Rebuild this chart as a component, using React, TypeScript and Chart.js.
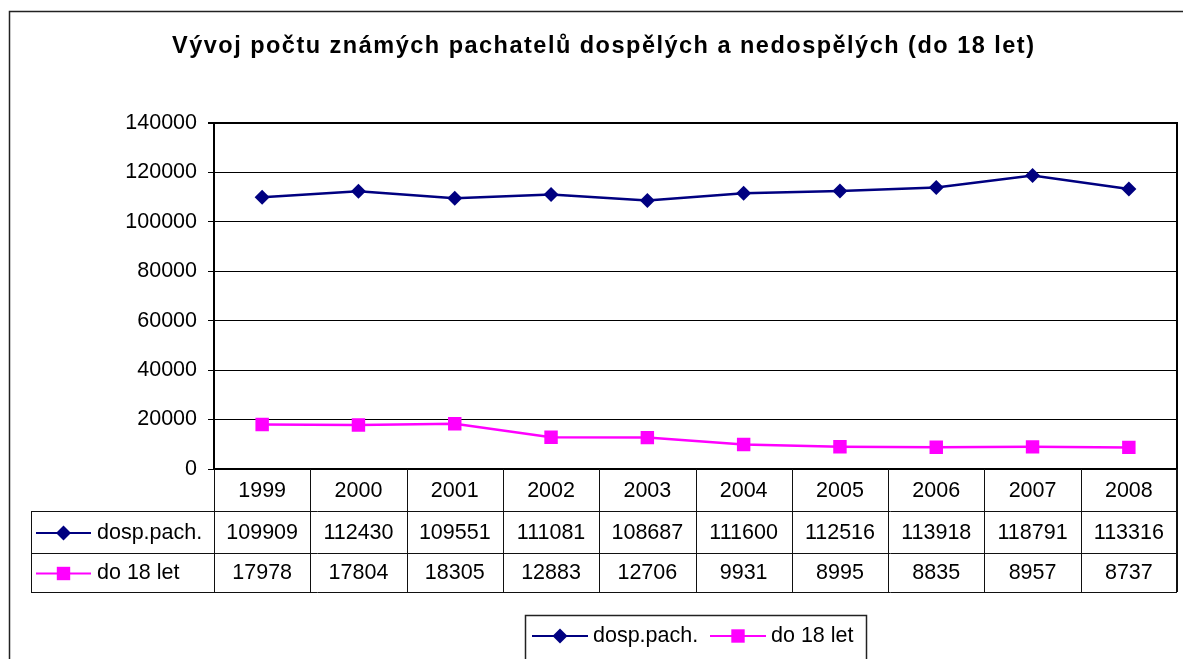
import React, { useEffect, useRef } from 'react';
import { Chart, registerables } from 'chart.js';

Chart.register(...registerables);

const years = ['1999', '2000', '2001', '2002', '2003', '2004', '2005', '2006', '2007', '2008'];
const adults = [109909, 112430, 109551, 111081, 108687, 111600, 112516, 113918, 118791, 113316];
const juveniles = [17978, 17804, 18305, 12883, 12706, 9931, 8995, 8835, 8957, 8737];
const seriesNames = ['dosp.pach.', 'do 18 let'];
const seriesColors = ['#000080', '#FF00FF'];
const seriesStyles = ['rectRot', 'rect'];
const yMin = 0;
const yMax = 140000;
const yStep = 20000;
const title = 'Vývoj počtu známých pachatelů dospělých a nedospělých (do 18 let)';

const FONT = '"Liberation Sans", Arial, sans-serif';
const TXT = 21.5;

function drawMarker(ctx: CanvasRenderingContext2D, cx: number, cy: number, style: string, color: string) {
  ctx.fillStyle = color;
  ctx.beginPath();
  if (style === 'rectRot') {
    const r = 7.5;
    ctx.moveTo(cx, cy - r);
    ctx.lineTo(cx + r, cy);
    ctx.lineTo(cx, cy + r);
    ctx.lineTo(cx - r, cy);
    ctx.closePath();
  } else {
    const h = 6.7;
    ctx.rect(cx - h, cy - h, 2 * h, 2 * h);
  }
  ctx.fill();
}

function drawKey(ctx: CanvasRenderingContext2D, x1: number, x2: number, y: number, i: number) {
  ctx.strokeStyle = seriesColors[i];
  ctx.lineWidth = 2;
  ctx.beginPath();
  ctx.moveTo(x1, y);
  ctx.lineTo(x2, y);
  ctx.stroke();
  drawMarker(ctx, (x1 + x2) / 2, y, seriesStyles[i], seriesColors[i]);
}

const decorPlugin = {
  id: 'decor',
  afterDraw(chart: any) {
    const ctx: CanvasRenderingContext2D = chart.ctx;
    const area = chart.chartArea;
    const xs = chart.scales.x;
    ctx.save();

    // outer frame
    ctx.strokeStyle = '#222';
    ctx.lineWidth = 1.5;
    ctx.strokeRect(9.5, 11.5, 1400, 1000);

    // title
    ctx.fillStyle = '#000';
    ctx.font = `bold 23.5px ${FONT}`;
    ctx.textAlign = 'left';
    ctx.textBaseline = 'middle';
    const w = ctx.measureText(title).width;
    const ls = Math.max(0, (862 - w) / (title.length - 1));
    (ctx as any).letterSpacing = `${ls}px`;
    ctx.fillText(title, 172, 47);
    (ctx as any).letterSpacing = '0px';

    // plot right border
    ctx.strokeStyle = '#000';
    ctx.lineWidth = 2;
    ctx.beginPath();
    ctx.moveTo(area.right, area.top - 1);
    ctx.lineTo(area.right, area.bottom);
    ctx.stroke();

    // data table
    const n = years.length;
    const colW = (area.right - area.left) / n;
    const headTop = area.bottom;
    const r1 = headTop + 42;
    const r2 = r1 + 42;
    const r3 = r2 + 39;
    const tableLeft = 31;
    ctx.strokeStyle = '#111';
    ctx.lineWidth = 1;
    ctx.beginPath();
    for (let k = 0; k < n; k++) {
      const x = Math.round(area.left + k * colW) + 0.5;
      ctx.moveTo(x, headTop);
      ctx.lineTo(x, r3);
    }
    [r1, r2, r3].forEach((y) => {
      ctx.moveTo(tableLeft, Math.round(y) + 0.5);
      ctx.lineTo(area.right, Math.round(y) + 0.5);
    });
    ctx.moveTo(tableLeft + 0.5, r1);
    ctx.lineTo(tableLeft + 0.5, r3);
    ctx.stroke();
    ctx.lineWidth = 2;
    ctx.beginPath();
    ctx.moveTo(area.right, headTop);
    ctx.lineTo(area.right, r3);
    ctx.stroke();

    ctx.fillStyle = '#000';
    ctx.font = `${TXT}px ${FONT}`;
    ctx.textAlign = 'center';
    ctx.textBaseline = 'middle';
    const rowsData = [adults, juveniles];
    const rowMid = [(r1 + r2) / 2 + 1, (r2 + r3) / 2 + 1];
    years.forEach((yr, i) => {
      const cx = xs.getPixelForTick(i);
      ctx.fillText(yr, cx, (headTop + r1) / 2 + 1);
      rowsData.forEach((arr, j) => {
        ctx.fillText(String(arr[i]), cx, rowMid[j]);
      });
    });
    seriesNames.forEach((name, j) => {
      drawKey(ctx, 36, 91, rowMid[j], j);
      ctx.fillStyle = '#000';
      ctx.textAlign = 'left';
      ctx.font = `${TXT}px ${FONT}`;
      ctx.fillText(name, 97, rowMid[j]);
    });

    // legend box
    ctx.strokeStyle = '#222';
    ctx.lineWidth = 1.5;
    ctx.strokeRect(525.5, 615.5, 341, 200);
    const legY = 636;
    drawKey(ctx, 532, 588, legY, 0);
    ctx.fillStyle = '#000';
    ctx.textAlign = 'left';
    ctx.font = `${TXT}px ${FONT}`;
    ctx.fillText(seriesNames[0], 593, legY);
    drawKey(ctx, 710, 766, legY, 1);
    ctx.fillStyle = '#000';
    ctx.fillText(seriesNames[1], 771, legY);

    ctx.restore();
  },
};

export default function App() {
  const ref = useRef<HTMLCanvasElement>(null);
  useEffect(() => {
    document.body.style.margin = '0';
    const canvas = ref.current!;
    const chart = new Chart(canvas, {
      type: 'line',
      data: {
        labels: years,
        datasets: [
          {
            label: seriesNames[0],
            data: adults,
            borderColor: seriesColors[0],
            backgroundColor: seriesColors[0],
            borderWidth: 2.5,
            pointStyle: seriesStyles[0] as any,
            pointRadius: 7.5,
            pointBorderWidth: 0,
            tension: 0,
          },
          {
            label: seriesNames[1],
            data: juveniles,
            borderColor: seriesColors[1],
            backgroundColor: seriesColors[1],
            borderWidth: 2.5,
            pointStyle: seriesStyles[1] as any,
            pointRadius: 9.5,
            pointBorderWidth: 0,
            tension: 0,
          },
        ],
      },
      options: {
        responsive: false,
        animation: false,
        layout: { autoPadding: false, padding: { left: 0, top: 123, right: 6, bottom: 0 } },
        plugins: {
          legend: { display: false },
          title: { display: false },
          tooltip: { enabled: false },
        },
        scales: {
          x: {
            type: 'category',
            offset: true,
            ticks: { display: false },
            grid: { display: false },
            border: { display: true, color: '#000', width: 2 },
            afterFit: (s: any) => {
              s.height = 190;
            },
          },
          y: {
            min: yMin,
            max: yMax,
            ticks: {
              stepSize: yStep,
              color: '#000',
              padding: 11,
              font: { family: FONT, size: TXT },
              callback: (v: any) => String(v),
            },
            grid: {
              color: '#000',
              lineWidth: (c: any) => (c.tick && c.tick.value === yMax ? 2 : 1),
              tickLength: 6,
            },
            border: { display: true, color: '#000', width: 2 },
            afterFit: (s: any) => {
              s.width = 214;
            },
          },
        },
      },
      plugins: [decorPlugin],
    });
    return () => chart.destroy();
  }, []);
  return (
    <div style={{ position: 'absolute', left: 0, top: 0, width: 1183, height: 659, background: '#fff' }}>
      <canvas ref={ref} width={1183} height={659} style={{ display: 'block' }} />
    </div>
  );
}
